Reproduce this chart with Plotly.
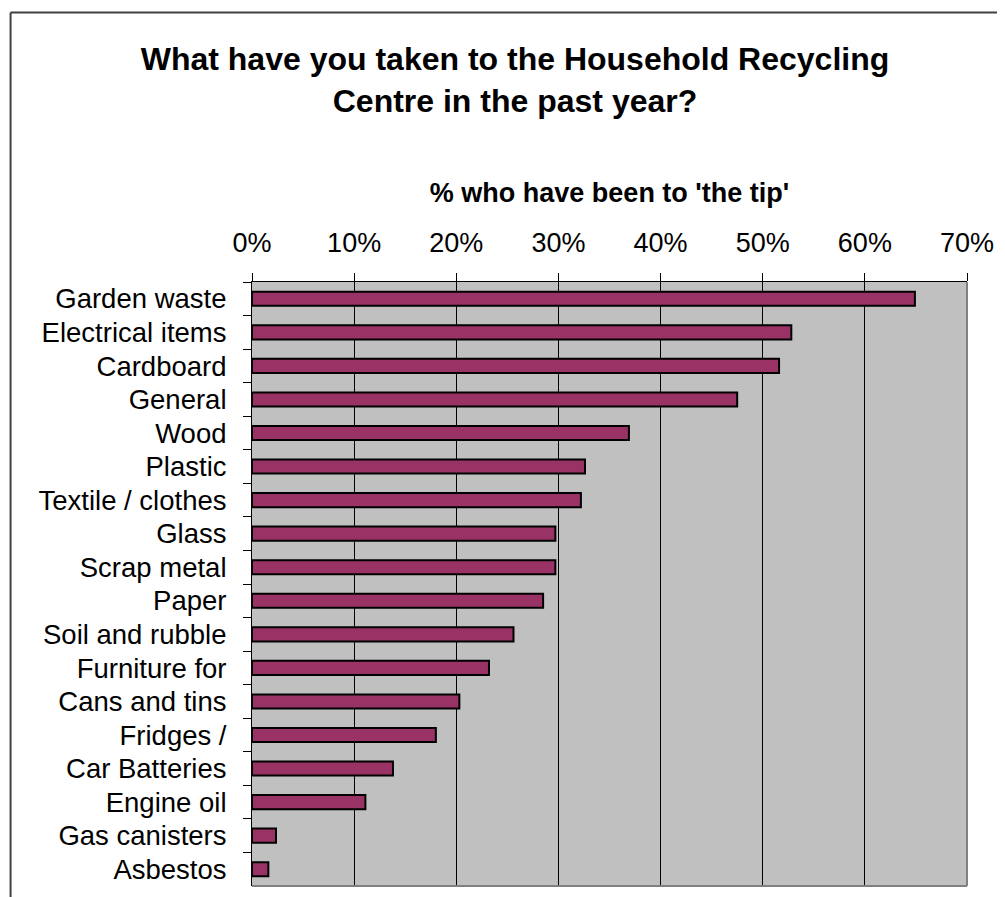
import plotly.graph_objects as go

categories = ["Garden waste", "Electrical items", "Cardboard", "General", "Wood", "Plastic",
              "Textile / clothes", "Glass", "Scrap metal", "Paper", "Soil and rubble",
              "Furniture for", "Cans and tins", "Fridges /", "Car Batteries", "Engine oil",
              "Gas canisters", "Asbestos"]
values = [64.9, 52.8, 51.6, 47.5, 36.9, 32.6, 32.2, 29.7, 29.7, 28.5, 25.6, 23.2, 20.3,
          18.0, 13.8, 11.1, 2.35, 1.6]
x_ticks = [0, 10, 20, 30, 40, 50, 60, 70]
x_tick_labels = [f"{t}%" for t in x_ticks]

# page has an 8px body margin; figure coordinates = page coordinates - 8
OFF = 8
W, H = 1005 - OFF, 897 - OFF
L = 251.7 - OFF
R = W - (967.5 - OFF)
T = 282.3 - OFF
B = H - (885.7 - OFF)
pw, ph = W - L - R, H - T - B


def px(x_page):
    return (x_page - OFF - L) / pw


def py(y_page):
    return (H - B - (y_page - OFF)) / ph


fig = go.Figure(go.Bar(
    x=values, y=categories, orientation="h", width=0.42,
    marker=dict(color="#993366", line=dict(color="black", width=2)),
))

font = "Arial, Liberation Sans, sans-serif"
fig.update_layout(
    width=W, height=H, margin=dict(l=L, r=R, t=T, b=B),
    paper_bgcolor="white", plot_bgcolor="#C0C0C0",
    font=dict(family=font, color="black", size=27.5),
    showlegend=False,
    title=dict(text="<b>What have you taken to the Household Recycling<br>Centre in the past year?</b>",
               x=(515 - OFF) / W, xanchor="center", xref="container",
               y=1 - (70 - OFF) / H, yanchor="top", yref="container",
               font=dict(size=32, family=font)),
    xaxis=dict(side="top", range=[0, 70], tickvals=x_ticks, ticktext=x_tick_labels,
               showgrid=True, gridcolor="black", gridwidth=1,
               showline=True, linecolor="black", linewidth=1,
               ticks="outside", ticklen=8, tickcolor="black",
               tickfont=dict(size=27), ticklabelstandoff=10,
               title=dict(text="<b>% who have been to 'the tip'</b>", font=dict(size=27), standoff=17),
               zeroline=False, fixedrange=True),
    yaxis=dict(autorange="reversed", showline=True, linecolor="black", linewidth=1,
               ticks="outside", ticklen=8, tickcolor="black", tickson="boundaries",
               tickfont=dict(size=27.5), ticklabelstandoff=19, showgrid=False, fixedrange=True),
    shapes=[
        dict(type="line", xref="paper", yref="paper", x0=1, x1=1, y0=0, y1=1,
             line=dict(color="#808080", width=2)),
        dict(type="line", xref="paper", yref="paper", x0=0, x1=1, y0=0, y1=0,
             line=dict(color="#808080", width=2)),
        dict(type="line", xref="paper", yref="paper", x0=px(10), x1=px(10), y0=py(13), y1=py(910),
             line=dict(color="#404040", width=2)),
        dict(type="line", xref="paper", yref="paper", x0=px(10), x1=px(1010), y0=py(13), y1=py(13),
             line=dict(color="#404040", width=2)),
    ],
)

fig.write_html("out.html")
